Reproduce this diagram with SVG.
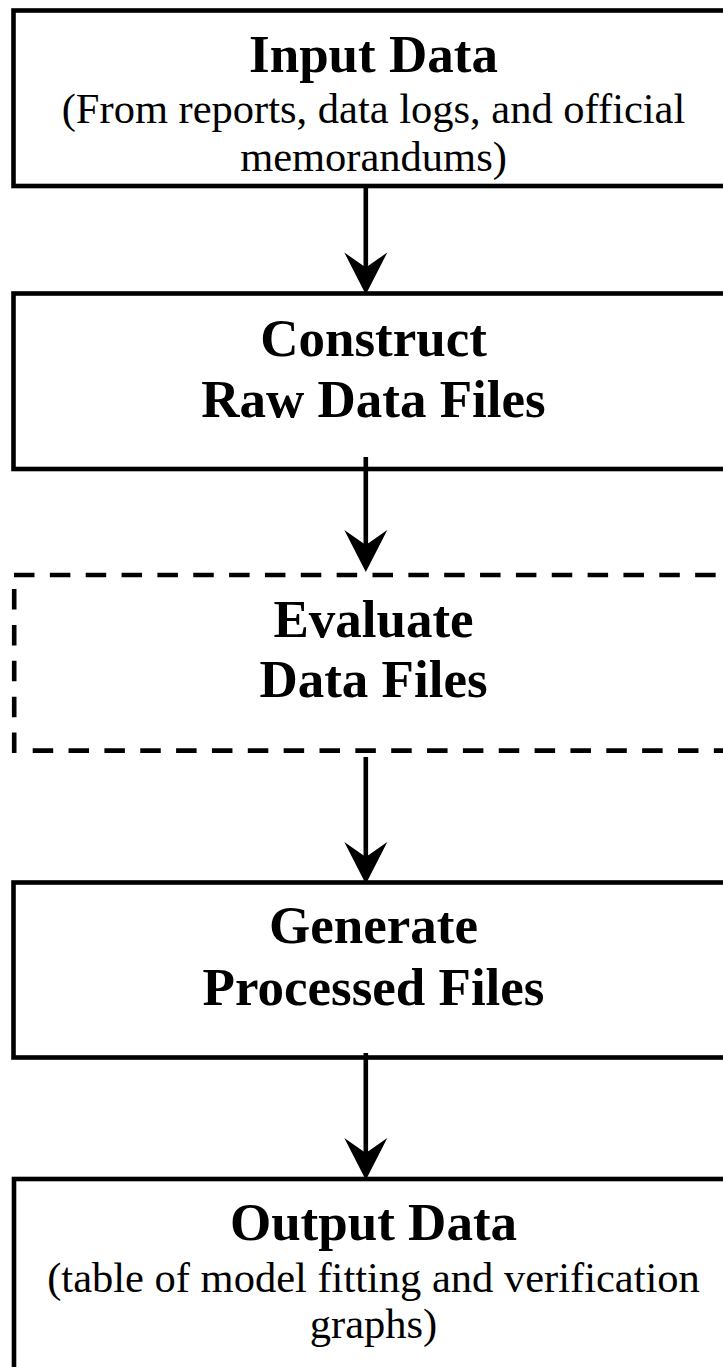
<svg xmlns="http://www.w3.org/2000/svg" width="723" height="1367" viewBox="0 0 723 1367">
  <style>
    .box { fill: #fff; stroke: #000; stroke-width: 4.6; }
    .dash { fill: none; stroke: #000; stroke-width: 4.6; stroke-dasharray: 20.5 15.35; }
    .title { font-family: "Liberation Serif", "Times New Roman", serif; font-weight: bold; font-size: 53px; text-anchor: middle; fill: #000; }
    .sub { font-family: "Liberation Serif", "Times New Roman", serif; font-size: 42.5px; text-anchor: middle; fill: #000; }
    .wire { stroke: #000; stroke-width: 4.6; fill: none; }
    .head { fill: #000; stroke: none; }
  </style>
  <defs>
    <!-- arrowhead with its tip at the origin, pointing down -->
    <path id="arrowhead" class="head" d="M0,0 L-21.5,-42 L0,-27 L21.5,-42 Z"/>
  </defs>
  <rect width="723" height="1367" fill="#fff"/>

  <g id="input-data">
    <rect class="box" x="13.5" y="10.5" width="730" height="175.5"/>
    <text class="title" x="373.5" y="72">Input Data</text>
    <text class="sub" x="373.5" y="122.5">(From reports, data logs, and official</text>
    <text class="sub" x="373.5" y="171">memorandums)</text>
  </g>

  <g id="construct-raw">
    <rect class="box" x="13.5" y="293.5" width="730" height="175.5"/>
    <text class="title" x="373.5" y="356">Construct</text>
    <text class="title" x="373.5" y="417">Raw Data Files</text>
  </g>

  <g id="evaluate-data">
    <path class="dash" d="M14,575 H740"/>
    <path class="dash" d="M32.7,750.6 H740"/>
    <path class="dash" d="M14.2,753 V575"/>
    <text class="title" x="373.5" y="637">Evaluate</text>
    <text class="title" x="373.5" y="697">Data Files</text>
  </g>

  <g id="generate-processed">
    <rect class="box" x="13.5" y="882.5" width="730" height="175"/>
    <text class="title" x="373.5" y="943">Generate</text>
    <text class="title" x="373.5" y="1005">Processed Files</text>
  </g>

  <g id="output-data">
    <rect class="box" x="14" y="1179" width="730" height="220"/>
    <text class="title" x="373.5" y="1240">Output Data</text>
    <text class="sub" x="373.5" y="1292">(table of model fitting and verification</text>
    <text class="sub" x="373.5" y="1338">graphs)</text>
  </g>

  <g id="connectors">
    <line class="wire" x1="365.8" y1="188" x2="365.8" y2="270"/>
    <use href="#arrowhead" x="365.8" y="294.5"/>
    <line class="wire" x1="365.8" y1="457" x2="365.8" y2="548"/>
    <use href="#arrowhead" x="365.8" y="572"/>
    <line class="wire" x1="365.8" y1="757" x2="365.8" y2="860"/>
    <use href="#arrowhead" x="365.8" y="884"/>
    <line class="wire" x1="365.8" y1="1053" x2="365.8" y2="1156"/>
    <use href="#arrowhead" x="365.8" y="1180"/>
  </g>
</svg>
